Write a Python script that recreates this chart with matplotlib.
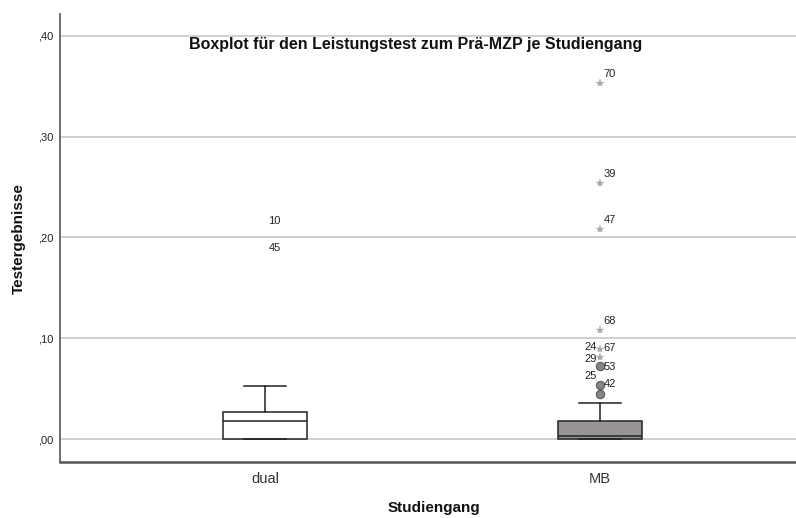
import matplotlib
matplotlib.use("Agg")
import matplotlib.pyplot as plt

plt.rcParams['font.family'] = ['Liberation Sans', 'DejaVu Sans']

# Box statistics per study programme
categories = ["dual", "MB"]
q1 = [0.0, 0.0]
medians = [0.0178, 0.0033]
q3 = [0.0264, 0.0178]
whisker_low = [0.0, 0.0]
whisker_high = [0.053, 0.036]
box_colors = ["white", "#999595"]

# Outliers: extreme values (stars) and mild outliers (circles)
dual_extremes = [0.2079, 0.181]
mb_extremes = [0.3535, 0.2538, 0.208, 0.108, 0.0898, 0.0815]
mb_outliers = [0.072, 0.0538, 0.0446]

# Case labels: (category index, kind, point index, text, side, vertical shift in px)
case_labels = [
    (0, "ext", 0, "10", "r", 9),
    (0, "ext", 1, "45", "r", 9),
    (1, "ext", 0, "70", "r", 9),
    (1, "ext", 1, "39", "r", 9),
    (1, "ext", 2, "47", "r", 9),
    (1, "ext", 3, "68", "r", 9),
    (1, "ext", 4, "24", "l", 1.5),
    (1, "ext", 5, "67", "r", 8.7),
    (1, "ext", 5, "29", "l", -1.6),
    (1, "out", 0, "53", "r", -0.4),
    (1, "out", 1, "25", "l", 9),
    (1, "out", 2, "42", "r", 10),
]

fig = plt.figure(figsize=(7.96, 5.18), dpi=100)
ax = fig.add_axes([60 / 796, 56 / 518, 736 / 796, 448 / 518])

stats = []
for i, name in enumerate(categories):
    stats.append(dict(label=name, q1=q1[i], med=medians[i], q3=q3[i],
                      whislo=whisker_low[i], whishi=whisker_high[i], fliers=[]))

bp = ax.bxp(stats, positions=[0, 1], widths=0.25, capwidths=0.128,
            patch_artist=True, showfliers=False,
            boxprops=dict(edgecolor="#222222", linewidth=1.1),
            medianprops=dict(color="#222222", linewidth=1.1),
            whiskerprops=dict(color="#222222", linewidth=1.1),
            capprops=dict(color="#222222", linewidth=1.1),
            zorder=3)
for patch, c in zip(bp["boxes"], box_colors):
    patch.set_facecolor(c)

# Marks for the outliers (dual extremes are not drawn visibly)
ax.plot([0] * len(dual_extremes), dual_extremes, linestyle="none", marker="*",
        markersize=6, markerfacecolor="none", markeredgecolor="none", zorder=4)
ax.plot([1] * len(mb_extremes), mb_extremes, linestyle="none", marker="*",
        markersize=6, color="#aaaaaa", markeredgewidth=0.3, zorder=4)
ax.plot([1] * len(mb_outliers), mb_outliers, linestyle="none", marker="o",
        markersize=6, markerfacecolor="#858585", markeredgecolor="#5a5a5a",
        markeredgewidth=0.8, zorder=4)

points = {(0, "ext"): dual_extremes, (1, "ext"): mb_extremes, (1, "out"): mb_outliers}
for cat, kind, idx, text, side, dy in case_labels:
    yv = points[(cat, kind)][idx]
    dx = 3.5 if side == "r" else -3.5
    ax.annotate(text, xy=(cat, yv), xytext=(dx, dy), textcoords="offset pixels",
                ha="left" if side == "r" else "right", va="center",
                fontsize=8, color="#222222", zorder=5)

ax.set_xlim(-0.612, 1.585)
ax.set_ylim(-0.0228, 0.4218)
ax.set_yticks([0.0, 0.1, 0.2, 0.3, 0.4])
ax.set_yticklabels([",00", ",10", ",20", ",30", ",40"])
ax.set_xticks([0, 1])
ax.set_xticklabels(categories)
ax.tick_params(axis="y", length=0, pad=5, labelsize=8, labelcolor="#222222")
ax.tick_params(axis="x", length=0, pad=7, labelsize=10.5, labelcolor="#333333")

ax.grid(axis="y", color="#c4c4c4", linewidth=1.1, zorder=0)
ax.set_axisbelow(True)
for s in ["top", "right"]:
    ax.spines[s].set_visible(False)
ax.spines["left"].set_color("#555555")
ax.spines["left"].set_linewidth(1.2)
ax.spines["bottom"].set_color("#555555")
ax.spines["bottom"].set_linewidth(1.8)

ax.text(0.4837, 0.392, "Boxplot für den Leistungstest zum Prä-MZP je Studiengang",
        transform=ax.get_yaxis_transform(), ha="center", va="center",
        fontsize=11.5, fontweight="bold", color="#111111")
ax.set_xlabel("")
fig.text(433.7 / 796, 1 - 508 / 518, "Studiengang", ha="center", va="center",
         fontsize=11, fontweight="bold", color="#111111")
fig.text(19 / 796, 1 - 239 / 518, "Testergebnisse", ha="center", va="center",
         rotation=90, fontsize=11, fontweight="bold", color="#111111")

fig.savefig("out.png", dpi=100, facecolor="white")
